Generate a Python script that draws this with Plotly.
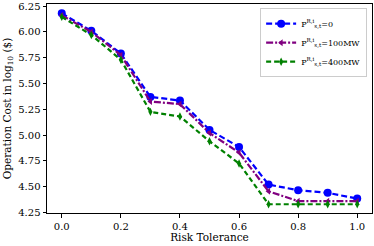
import plotly.graph_objects as go

risk = [0.0, 0.1, 0.2, 0.3, 0.4, 0.5, 0.6, 0.7, 0.8, 0.9, 1.0]
cost_0 = [6.18, 6.01, 5.79, 5.37, 5.335, 5.05, 4.885, 4.52, 4.466, 4.44, 4.385]
cost_100 = [6.16, 6.00, 5.775, 5.325, 5.30, 5.02, 4.83, 4.455, 4.36, 4.36, 4.36]
cost_400 = [6.145, 5.97, 5.73, 5.225, 5.18, 4.94, 4.725, 4.33, 4.33, 4.33, 4.33]
labels = ["P<sup>R,i</sup><sub>s,t</sub>=0", "P<sup>R,i</sup><sub>s,t</sub>=100MW", "P<sup>R,i</sup><sub>s,t</sub>=400MW"]
xticks = [0.0, 0.2, 0.4, 0.6, 0.8, 1.0]
yticks = [4.25, 4.50, 4.75, 5.00, 5.25, 5.50, 5.75, 6.00, 6.25]

font = "DejaVu Serif"
fig = go.Figure()
fig.add_trace(go.Scatter(x=risk, y=cost_0, name=labels[0], mode="lines+markers",
                         line=dict(color="#0000ff", width=2.2, dash="6px,3px"),
                         marker=dict(symbol="circle", size=8, color="#0000ff")))
fig.add_trace(go.Scatter(x=risk, y=cost_100, name=labels[1], mode="lines+markers",
                         line=dict(color="#800080", width=2.2, dash="7px,2px,2px,2px"),
                         marker=dict(symbol="triangle-left", size=6, color="#800080")))
fig.add_trace(go.Scatter(x=risk, y=cost_400, name=labels[2], mode="lines+markers",
                         line=dict(color="#008000", width=2.2, dash="5px,3px"),
                         marker=dict(symbol="diamond-tall", size=6, color="#008000")))

axis_common = dict(showgrid=False, zeroline=False, showline=True, linecolor="black",
                   linewidth=1, mirror=True, ticks="outside", ticklen=3.5, tickwidth=1,
                   tickcolor="black", tickfont=dict(family=font, size=10, color="black"))
fig.update_xaxes(range=[-0.05, 1.05], tickvals=xticks,
                 ticktext=[f"{v:.1f}" for v in xticks],
                 title=dict(text="Risk Tolerance", font=dict(family=font, size=10.5, color="black"), standoff=2),
                 **axis_common)
fig.update_yaxes(range=[4.245, 6.27], tickvals=yticks,
                 ticktext=[f"{v:.2f}" for v in yticks],
                 title=dict(text="Operation Cost in log<sub>10</sub> ($)", font=dict(family=font, size=10.5, color="black"), standoff=4),
                 **axis_common)
fig.update_layout(width=374, height=246, margin=dict(l=47, r=2, t=4, b=33),
                  plot_bgcolor="white", paper_bgcolor="white",
                  legend=dict(x=0.985, y=0.98, xanchor="right", yanchor="top",
                              bgcolor="white", bordercolor="#cccccc", borderwidth=1,
                              font=dict(family=font, size=8, color="black"),
                              tracegroupgap=0, itemwidth=30))
fig.write_html("out.html", config={"displayModeBar": False},
               post_script="document.body.style.margin='0';document.body.style.overflow='hidden';")
